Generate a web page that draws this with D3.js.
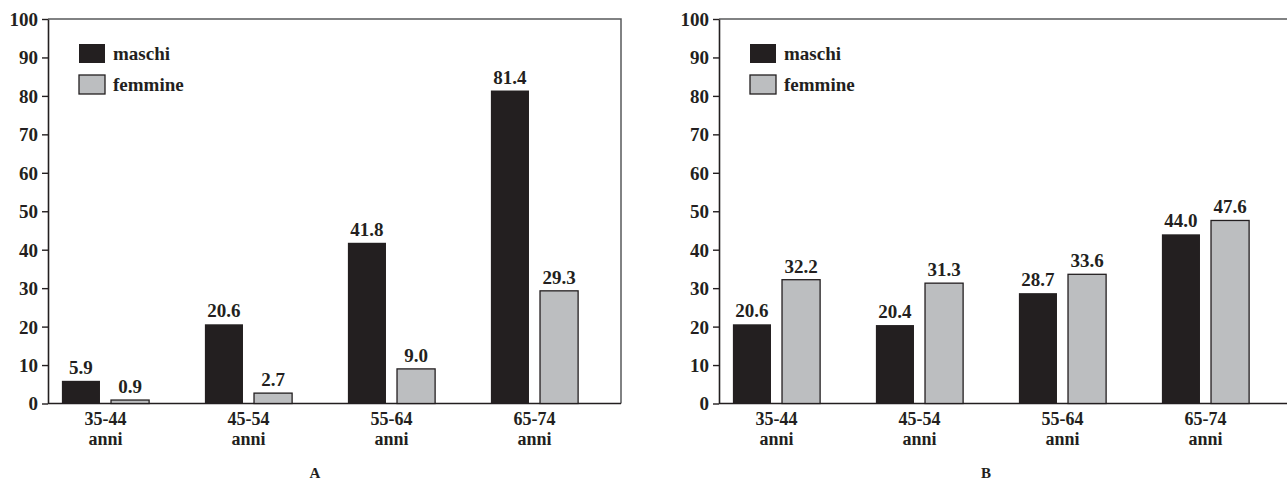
<!DOCTYPE html>
<html>
<head>
<meta charset="UTF-8">
<script src="https://cdn.jsdelivr.net/npm/d3@7"></script>
<style>
  body { margin: 0; background: #fff; }
  text { font-family: "Liberation Serif", "Times New Roman", serif; font-weight: bold; fill: #231f20; }
</style>
</head>
<body>
<script>
// data
const ageGroups = ["35-44", "45-54", "55-64", "65-74"];
const ageUnit = "anni";
const seriesNames = ["maschi", "femmine"];
const maschiA = [5.9, 20.6, 41.8, 81.4];
const femmineA = [0.9, 2.7, 9.0, 29.3];
const maschiB = [20.6, 20.4, 28.7, 44.0];
const femmineB = [32.2, 31.3, 33.6, 47.6];
const yTicks = [0, 10, 20, 30, 40, 50, 60, 70, 80, 90, 100];
const panelLetters = ["A", "B"];

const colors = { maschi: "#231f20", femmine: "#bcbec0" };

const W = 1287, H = 481;
const plotW = 573, plotH = 384.5, plotTop = 19;

const svg = d3.select("body").append("svg")
  .attr("width", W).attr("height", H);

function drawPanel(left, maschi, femmine, letter) {
  const g = svg.append("g").attr("transform", "translate(" + left + "," + plotTop + ")");

  const y = d3.scaleLinear().domain([0, 100]).range([plotH, 0]);

  // groups are a bit left of centre in the original
  const x = d3.scaleBand().domain(ageGroups)
    .range([-14, -14 + 143 * 4])
    .paddingInner(0.39).paddingOuter(0.195);

  const xs = d3.scaleBand().domain(seriesNames)
    .range([0, x.bandwidth()])
    .paddingInner(0.2245);

  // frame: top and right lines
  g.append("path")
    .attr("d", "M0,0H" + plotW + "V" + plotH)
    .attr("fill", "none").attr("stroke", "#58595b").attr("stroke-width", 1.5);

  // y axis
  const ya = g.append("g")
    .call(d3.axisLeft(y).tickValues(yTicks).tickSize(6).tickPadding(4).tickSizeOuter(0));
  ya.select(".domain").attr("stroke", "#231f20").attr("stroke-width", 1.6);
  ya.selectAll(".tick line").attr("stroke", "#231f20").attr("stroke-width", 1.4);
  ya.selectAll(".tick text")
    .style("font-family", "'Liberation Serif', serif").style("font-weight", "bold")
    .style("font-size", "19px").attr("fill", "#231f20").attr("dy", "0.34em");

  // x axis line
  g.append("line")
    .attr("x1", 0).attr("x2", plotW).attr("y1", y(0)).attr("y2", y(0))
    .attr("stroke", "#231f20").attr("stroke-width", 1.6);

  const rows = ageGroups.map((a, i) => ({ age: a, maschi: maschi[i], femmine: femmine[i] }));

  const grp = g.selectAll(".grp").data(rows).enter().append("g")
    .attr("transform", d => "translate(" + x(d.age) + ",0)");

  grp.selectAll("rect").data(d => seriesNames.map(s => ({ s: s, v: d[s] })))
    .enter().append("rect")
    .attr("x", d => xs(d.s))
    .attr("width", xs.bandwidth())
    .attr("y", d => y(d.v))
    .attr("height", d => y(0) - y(d.v))
    .attr("fill", d => colors[d.s])
    .attr("stroke", d => d.s === "femmine" ? "#231f20" : "none")
    .attr("stroke-width", 1.3);

  grp.selectAll(".val").data(d => seriesNames.map(s => ({ s: s, v: d[s] })))
    .enter().append("text")
    .attr("x", d => xs(d.s) + xs.bandwidth() / 2)
    .attr("y", d => y(d.v) - 7)
    .attr("text-anchor", "middle")
    .style("font-size", "19px")
    .text(d => d.v.toFixed(1));

  // category labels, two lines
  grp.append("text")
    .attr("x", x.bandwidth() / 2).attr("y", plotH + 21)
    .attr("text-anchor", "middle").style("font-size", "18px")
    .text(d => d.age);
  grp.append("text")
    .attr("x", x.bandwidth() / 2).attr("y", plotH + 41)
    .attr("text-anchor", "middle").style("font-size", "18px")
    .text(ageUnit);

  // legend
  const lg = g.selectAll(".leg").data(seriesNames).enter().append("g")
    .attr("transform", (d, i) => "translate(31," + (25 + i * 31) + ")");
  lg.append("rect")
    .attr("width", 26).attr("height", 19)
    .attr("fill", d => colors[d])
    .attr("stroke", d => d === "femmine" ? "#231f20" : "none")
    .attr("stroke-width", 1.3);
  lg.append("text")
    .attr("x", 34).attr("y", 15.5)
    .style("font-size", "19px")
    .text(d => d);

  // panel letter
  g.append("text")
    .attr("x", 267).attr("y", H - plotTop - 3)
    .attr("text-anchor", "middle").style("font-size", "15px")
    .text(letter);
}

drawPanel(48, maschiA, femmineA, panelLetters[0]);
drawPanel(719, maschiB, femmineB, panelLetters[1]);
</script>
</body>
</html>
